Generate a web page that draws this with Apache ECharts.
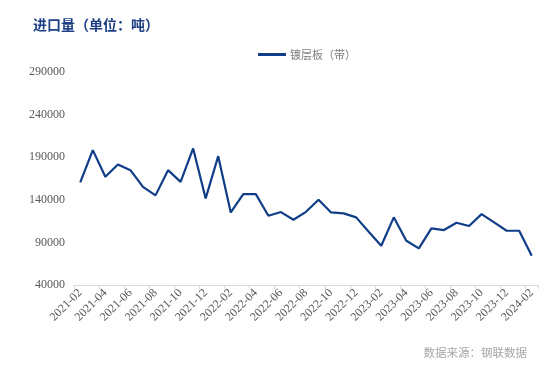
<!DOCTYPE html>
<html>
<head>
<meta charset="utf-8">
<script src="https://cdn.jsdelivr.net/npm/echarts@6/dist/echarts.min.js"></script>
<style>html,body{margin:0;padding:0;background:#fff}#c{width:551px;height:378px}</style>
</head>
<body>
<div id="c"></div>
<script>
var categories = ['2021-02','2021-03','2021-04','2021-05','2021-06','2021-07','2021-08','2021-09','2021-10','2021-11','2021-12',
  '2022-01','2022-02','2022-03','2022-04','2022-05','2022-06','2022-07','2022-08','2022-09','2022-10','2022-11','2022-12',
  '2023-01','2023-02','2023-03','2023-04','2023-05','2023-06','2023-07','2023-08','2023-09','2023-10','2023-11','2023-12',
  '2024-01','2024-02'];
var seriesName = '镀层板（带）';
var importVolume = [160400,198300,167000,181500,174800,155200,145200,174800,161100,200300,141600,
  191200,125200,146700,146700,121200,125600,116600,125900,140000,125200,124100,119400,
  102500,86100,119400,91900,83000,106500,104500,113000,109200,123200,113500,103700,
  103700,74300];
var yMin = 40000, yMax = 290000, yLabelStep = 50000;
var titleText = '进口量（单位：吨）';
var sourceText = '数据来源：钢联数据';

var chart = echarts.init(document.getElementById('c'), null, {renderer: 'canvas'});
var serif = '"Liberation Serif","DejaVu Serif",serif';
var cjk = '"Noto Sans CJK SC","Noto Sans",sans-serif';
chart.setOption({
  animation: false,
  backgroundColor: '#fff',
  title: {
    text: titleText, left: 28, top: 13,
    textStyle: {fontSize: 14, fontWeight: 'bold', color: '#1d3f84', fontFamily: cjk}
  },
  legend: {
    data: [{name: seriesName, icon: 'rect'}], top: 44, left: 253,
    itemWidth: 28, itemHeight: 3, itemGap: 5,
    textStyle: {fontSize: 11, color: '#7f7f7f', fontFamily: cjk, padding: [0, 0, 0, -1]}
  },
  graphic: [{
    type: 'text', right: 24, top: 347,
    style: {text: sourceText, fontSize: 11.5, fill: '#a6a6a6', fontFamily: cjk}
  }],
  grid: {left: 74, right: 13, top: 72, bottom: 93, containLabel: false},
  xAxis: {
    type: 'category', data: categories, boundaryGap: true,
    axisLine: {lineStyle: {color: '#d9d9d9', width: 1}},
    axisTick: {show: true, interval: 1, length: 4, lineStyle: {color: '#d9d9d9'}},
    axisLabel: {interval: 1, rotate: 45, fontSize: 12, color: '#595959', fontFamily: serif, margin: 6}
  },
  yAxis: {
    type: 'value', min: yMin, max: yMax, interval: 10000,
    axisLine: {show: false}, axisTick: {show: false}, splitLine: {show: false},
    axisLabel: {
      fontSize: 12, color: '#595959', fontFamily: serif, margin: 9,
      formatter: function (v) { return ((v - yMin) % yLabelStep === 0) ? String(v) : ''; }
    }
  },
  series: [{
    name: seriesName, type: 'line', data: importVolume,
    symbol: 'none', smooth: false,
    lineStyle: {color: '#0f3d87', width: 2.2},
    itemStyle: {color: '#0f3d87'}
  }]
});
</script>
</body>
</html>
